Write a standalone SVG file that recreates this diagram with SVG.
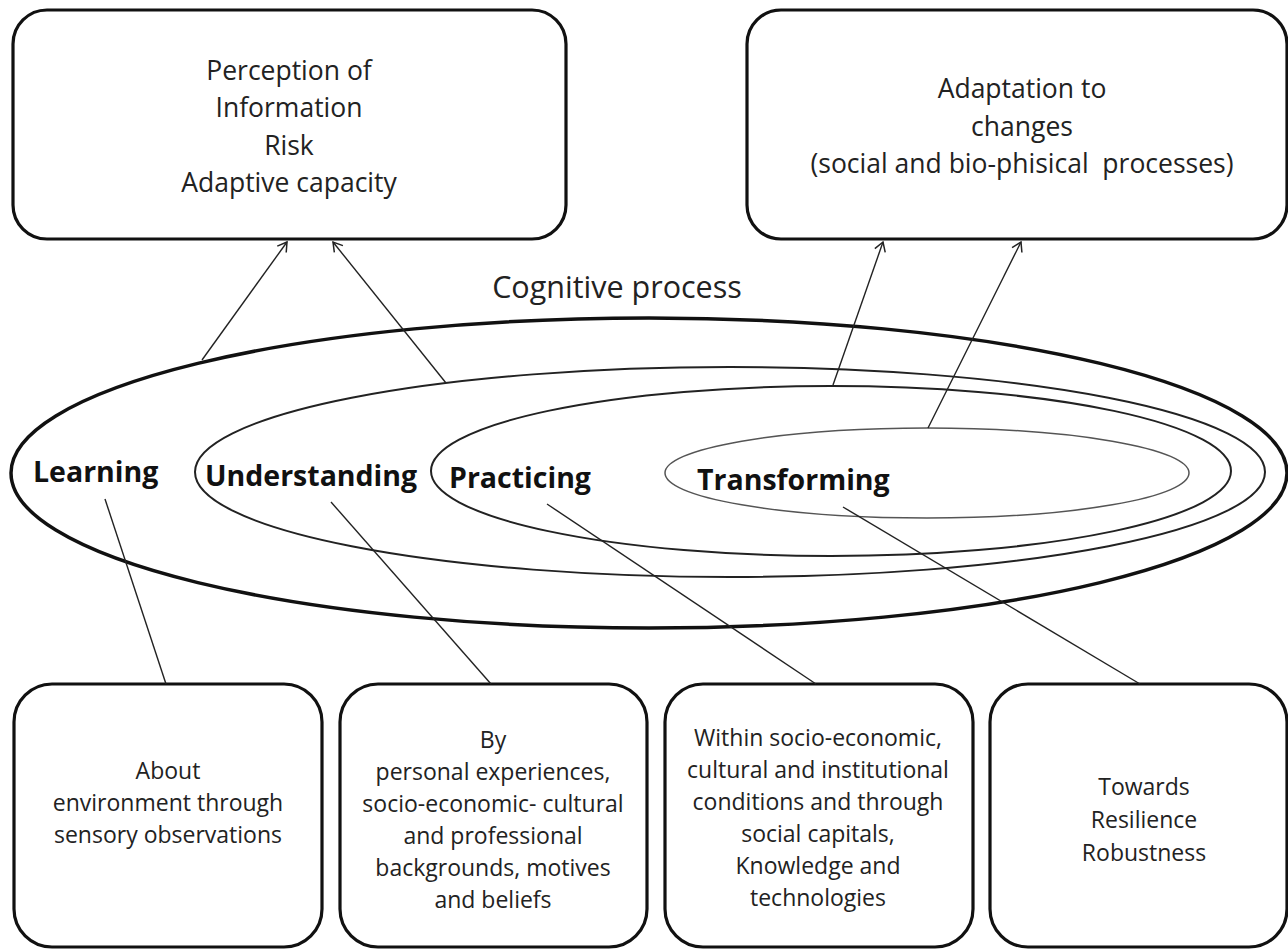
<svg xmlns="http://www.w3.org/2000/svg" width="1288" height="950" viewBox="0 0 1288 950">
<style>
.box{fill:#fff;stroke:#111;stroke-width:3.2}
.t{font-family:"Open Sans","Liberation Sans",sans-serif;fill:#222;text-anchor:middle}
.top{font-size:26.5px}
.bot{font-size:23px}
.lab{font-family:"Open Sans","Liberation Sans",sans-serif;font-weight:bold;font-size:28.5px;fill:#111}
.conn{stroke:#222;stroke-width:1.4;fill:none}
</style>
<defs>
<marker id="arr" markerUnits="userSpaceOnUse" markerWidth="14" markerHeight="14" refX="11" refY="7" orient="auto">
<path d="M2,1.5 L11,7 L2,12.5" fill="none" stroke="#222" stroke-width="1.5"/>
</marker>
</defs>
<rect width="1288" height="950" fill="#fff"/>

<g id="perception">
<rect class="box" x="13" y="10" width="553" height="229" rx="34"/>
<text class="t top" x="289" y="80">Perception of</text>
<text class="t top" x="289" y="117">Information</text>
<text class="t top" x="289" y="155">Risk</text>
<text class="t top" x="289" y="192">Adaptive capacity</text>
</g>

<g id="adaptation">
<rect class="box" x="747" y="10" width="540" height="229" rx="34"/>
<text class="t top" x="1022" y="98">Adaptation to</text>
<text class="t top" x="1022" y="136">changes</text>
<text class="t top" x="1022" y="173" style="white-space:pre">(social and bio-phisical  processes)</text>
</g>

<g id="cognitive">
<text class="t" x="617" y="298" style="font-size:30.5px">Cognitive process</text>
<ellipse cx="649" cy="473" rx="638" ry="155" fill="none" stroke="#111" stroke-width="3.5"/>
</g>
<g id="understanding-ring">
<ellipse cx="730" cy="472" rx="535" ry="105" fill="none" stroke="#222" stroke-width="2"/>
</g>
<g id="practicing-ring">
<ellipse cx="831" cy="471" rx="400" ry="85" fill="none" stroke="#222" stroke-width="2"/>
</g>
<g id="transforming-ring">
<ellipse cx="927" cy="473" rx="262" ry="45" fill="none" stroke="#555" stroke-width="1.5"/>
</g>

<g id="labels">
<text class="lab" x="33" y="482">Learning</text>
<text class="lab" x="205" y="486">Understanding</text>
<text class="lab" x="449" y="488">Practicing</text>
<text class="lab" x="697" y="490">Transforming</text>
</g>

<g id="about">
<rect class="box" x="14" y="684" width="308" height="263" rx="38"/>
<text class="t bot" x="168" y="779">About</text>
<text class="t bot" x="168" y="811">environment through</text>
<text class="t bot" x="168" y="843">sensory observations</text>
</g>

<g id="by">
<rect class="box" x="340" y="684" width="307" height="263" rx="38"/>
<text class="t bot" x="493" y="748">By</text>
<text class="t bot" x="493" y="780">personal experiences,</text>
<text class="t bot" x="493" y="812">socio-economic- cultural</text>
<text class="t bot" x="493" y="844">and professional</text>
<text class="t bot" x="493" y="876">backgrounds, motives</text>
<text class="t bot" x="493" y="908">and beliefs</text>
</g>

<g id="within">
<rect class="box" x="665" y="684" width="308" height="263" rx="38"/>
<text class="t bot" x="818" y="746">Within socio-economic,</text>
<text class="t bot" x="818" y="778">cultural and institutional</text>
<text class="t bot" x="818" y="810">conditions and through</text>
<text class="t bot" x="818" y="842">social capitals,</text>
<text class="t bot" x="818" y="874">Knowledge and</text>
<text class="t bot" x="818" y="906">technologies</text>
</g>

<g id="towards">
<rect class="box" x="990" y="684" width="297" height="263" rx="38"/>
<text class="t bot" x="1144" y="795">Towards</text>
<text class="t bot" x="1144" y="828">Resilience</text>
<text class="t bot" x="1144" y="861">Robustness</text>
</g>

<g id="connectors">
<line class="conn" x1="202" y1="360" x2="287" y2="242" marker-end="url(#arr)"/>
<line class="conn" x1="446" y1="383" x2="333" y2="242" marker-end="url(#arr)"/>
<line class="conn" x1="833" y1="385" x2="883" y2="242" marker-end="url(#arr)"/>
<line class="conn" x1="928" y1="428" x2="1021" y2="242" marker-end="url(#arr)"/>
<line class="conn" x1="105" y1="499" x2="166" y2="684"/>
<line class="conn" x1="331" y1="502" x2="491" y2="684"/>
<line class="conn" x1="547" y1="504" x2="816" y2="684"/>
<line class="conn" x1="843" y1="507" x2="1140" y2="684"/>
</g>
</svg>
